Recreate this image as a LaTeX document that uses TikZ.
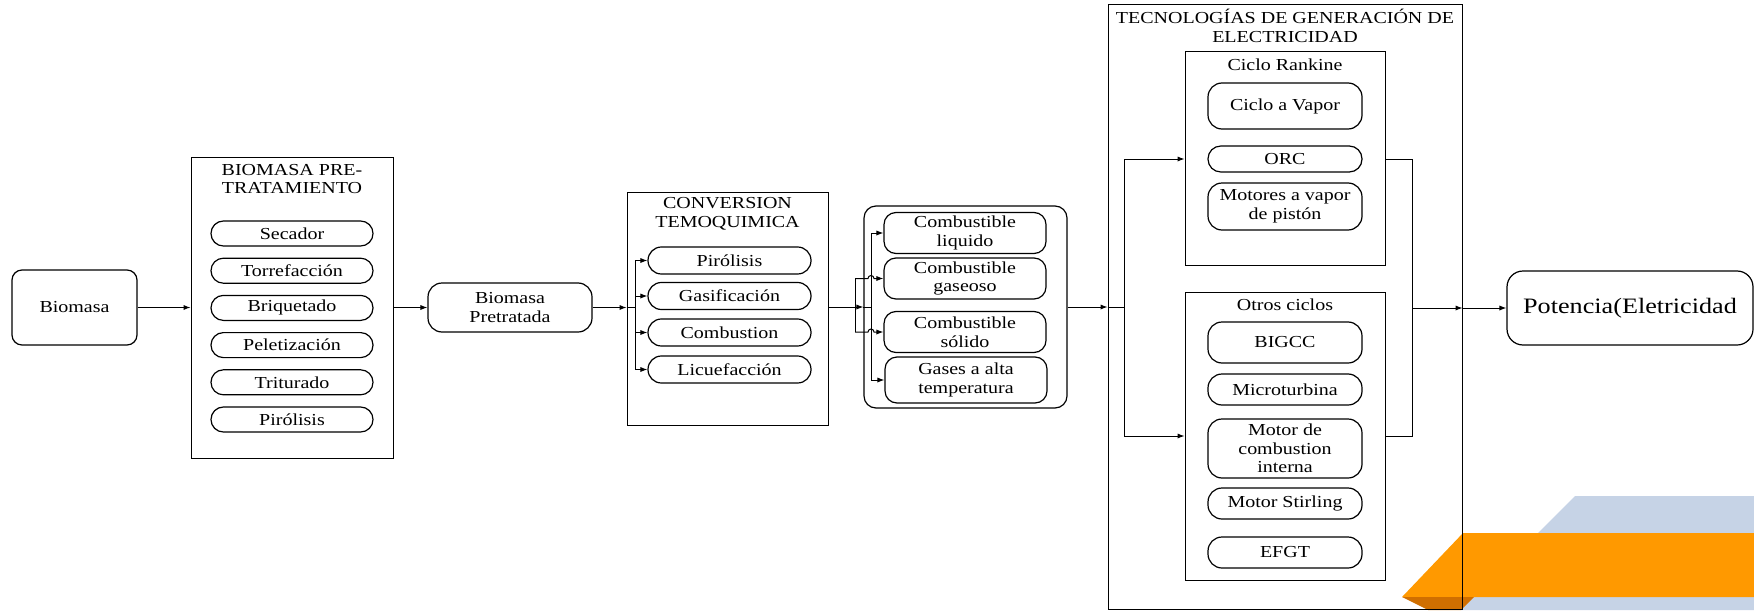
\documentclass[tikz,border=0pt]{standalone}
\usepackage{fontspec}
\setmainfont{Liberation Serif}[FakeStretch=1.19]
\usepackage{tikz}
\usetikzlibrary{arrows.meta}
\definecolor{bandgray}{HTML}{C6D3E6}
\definecolor{bandorange}{HTML}{FF9900}
\definecolor{banddark}{HTML}{D06F00}

\begin{document}
\begin{tikzpicture}[x=0.5pt,y=-0.5pt,
        txt/.style={font=\fontsize{8.4}{9.3}\selectfont,align=center},
        frame/.style={rectangle,draw,line width=0.5pt,inner sep=0pt},
        rbox/.style={rectangle,draw,line width=0.6pt,rounded corners=6pt,
                     inner sep=1pt,txt},
        pill/.style={rbox,rounded corners=6.2pt,minimum width=81pt,minimum height=12.5pt},
        cpill/.style={pill,minimum width=81.5pt,minimum height=13.5pt,rounded corners=6.7pt},
        fpill/.style={rbox,minimum width=81pt,minimum height=20.5pt,rounded corners=6pt},
        tpill/.style={rbox,minimum width=77pt,rounded corners=7pt},
        arr/.style={-{Latex[length=3.5pt,width=2.6pt]},line width=0.5pt},
        wire/.style={line width=0.5pt}]
      \useasboundingbox (0,0) rectangle (1754,610);
      % bands in the corner
      \fill[bandgray]   (1575,496) -- (1754,496) -- (1754,610) -- (1461,610) -- cycle;
      \fill[bandorange] (1463,533) -- (1754,533) -- (1754,597) -- (1402,597) -- cycle;
      \fill[banddark]   (1402,597) -- (1474,597) -- (1461,610) -- (1428,610) -- cycle;
      % pre-treatment
      \node[rbox,rounded corners=5pt,minimum width=62.5pt,minimum height=37.5pt] (bio) at(74.5,307.5){Biomasa};
      \node[frame,minimum width=101pt,minimum height=150.5pt] (prebox) at(292,307.5){};
      \node[txt] (pretitle) at(292,179){BIOMASA PRE-\\TRATAMIENTO};
      \node[pill] (secador)  at(292,233.5){Secador};
      \node[pill] (torre)    at(292,270.7){Torrefacción};
      \node[pill] (briq)     at(292,307.9){Briquetado};
      \node[pill] (pelet)    at(292,345.1){Peletización};
      \node[pill] (trit)     at(292,382.3){Triturado};
      \node[pill] (pirpre)   at(292,419.5){Pirólisis};
      \node[rbox,rounded corners=7pt,minimum width=82pt,minimum height=24.5pt] (pretra) at(510,307.5){Biomasa\\Pretratada};
      % thermochemical conversion
      \node[frame,minimum width=100.5pt,minimum height=116.5pt] (convbox) at(727.5,308.5){};
      \node[txt] (convtitle) at(727.5,214){CONVERSION\\TEMOQUIMICA};
      \node[cpill] (pir)  at(729.5,260.5){Pirólisis};
      \node[cpill] (gasi) at(729.5,296){Gasificación};
      \node[cpill] (comb) at(729.5,332.5){Combustion};
      \node[cpill] (licu) at(729.5,369.5){Licuefacción};
      \coordinate (cbus) at(635,307.5);
      % fuels
      \node[rbox,minimum width=101.5pt,minimum height=101pt] (fuelbox) at(965.5,307){};
      \node[fpill] (liq) at(965,233){Combustible\\liquido};
      \node[fpill] (gas) at(965,278.5){Combustible\\gaseoso};
      \node[fpill] (sol) at(965,332){Combustible\\sólido};
      \node[fpill,minimum height=23pt] (hot) at(966,380){Gases a alta\\temperatura};
      \coordinate (fbusa) at(871,307);
      \coordinate (fbusb) at(855,307);
      % generation technologies
      \node[frame,minimum width=177pt,minimum height=302pt] (tecbox) at(1285,307){};
      \node[txt] (tectitle) at(1285,26){TECNOLOGÍAS DE GENERACIÓN DE\\ELECTRICIDAD};
      \node[frame,minimum width=100pt,minimum height=106.5pt] (rankbox) at(1285,158.5){};
      \node[txt] (ranktitle) at(1285,65){Ciclo Rankine};
      \node[tpill,minimum height=23pt] (vapor) at(1285,106){Ciclo a Vapor};
      \node[tpill,minimum height=13pt,rounded corners=6.4pt] (orc) at(1285,159){ORC};
      \node[tpill,minimum height=23.5pt] (piston) at(1285,206.5){Motores a vapor\\de pistón};
      \node[frame,minimum width=100pt,minimum height=144pt] (otrobox) at(1285,436){};
      \node[txt] (otrotitle) at(1285,305){Otros ciclos};
      \node[tpill,minimum height=20.5pt] (bigcc)    at(1285,342.5){BIGCC};
      \node[tpill,minimum height=15.5pt] (micro)    at(1285,389.5){Microturbina};
      \node[tpill,minimum height=29.5pt] (mci)      at(1285,448.5){Motor de\\combustion\\interna};
      \node[tpill,minimum height=15.5pt] (stirling) at(1285,503.5){Motor Stirling};
      \node[tpill,minimum height=15.5pt] (efgt)     at(1285,552.5){EFGT};
      \coordinate (tbus) at(1124,307);
      \coordinate (rjoin) at(1412,308);
      \node[rbox,rounded corners=8pt,minimum width=123pt,minimum height=37pt,
            font=\fontsize{11}{13}\selectfont] (pot) at(1630,308){Potencia(Eletricidad};
      % connectors
      \draw[arr] (bio.east) -- (prebox.west);
      \draw[arr] (prebox.east) -- (pretra.west);
      \draw[arr] (pretra.east) -- (convbox.west |- pretra.east);
      \draw[wire] (convbox.west |- pretra.east) -- (cbus);
      \draw[wire] (cbus |- pir.west) -- (cbus |- licu.west);
      \foreach \n in {pir,gasi,comb,licu}
        \draw[arr] (cbus |- \n.west) -- (\n.west);
      \draw[arr] (convbox.east |- fuelbox.west) -- (fuelbox.west);
      \draw[wire] (fuelbox.west) -- (fbusa);
      \draw[wire] (fbusa |- liq.west) -- (fbusa |- hot.west);
      \draw[arr] (fbusa |- liq.west) -- (liq.west);
      \draw[arr] (fbusa |- hot.west) -- (hot.west);
      \draw[wire] (fbusb |- gas.west) -- (fbusb |- sol.west);
      \draw[arr] (fbusb |- gas.west) -- ++(13,0) arc[start angle=180,end angle=0,radius=1.5pt] -- (gas.west);
      \draw[arr] (fbusb |- sol.west) -- ++(13,0) arc[start angle=180,end angle=0,radius=1.5pt] -- (sol.west);
      \draw[arr] (fuelbox.east) -- (tecbox.west |- fuelbox.east);
      \draw[wire] (tecbox.west |- fuelbox.east) -- (tbus);
      \draw[wire] (tbus |- orc) -- (tbus |- otrobox);
      \draw[arr] (tbus |- orc) -- (rankbox.west |- orc);
      \draw[arr] (tbus |- otrobox) -- (otrobox.west);
      \draw[wire] (rankbox.east |- orc) -- (rjoin |- orc) -- (rjoin |- otrobox) -- (otrobox.east);
      \draw[arr] (rjoin) -- (tecbox.east |- rjoin);
      \draw[arr] (tecbox.east |- rjoin) -- (pot.west);
    \end{tikzpicture}
\end{document}
